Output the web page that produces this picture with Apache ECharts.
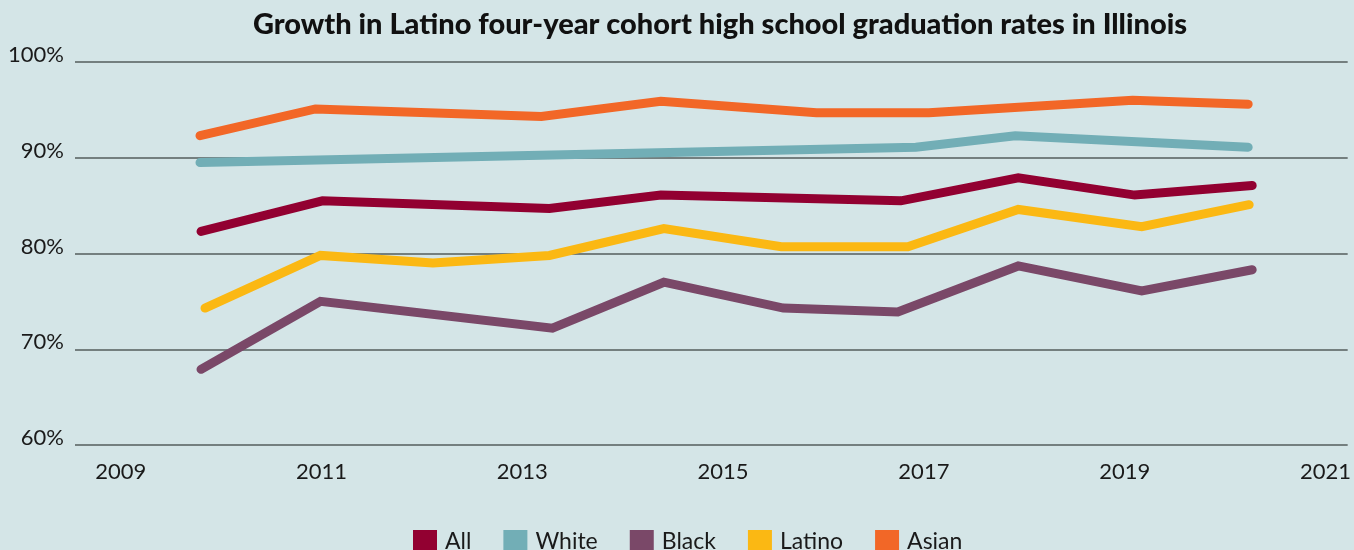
<!DOCTYPE html>
<html>
<head>
<meta charset="utf-8">
<title>Latino graduation rates</title>
<script src="https://cdn.jsdelivr.net/npm/echarts@6/dist/echarts.min.js"></script>
<style>
    html, body { margin: 0; padding: 0; background: #d4e5e7; }
    #chart { width: 1354px; height: 550px; }
</style>
</head>
<body>
<div id="chart"></div>
<script>
    // year positions of each line's vertices
    let allYears = [2009.80, 2011.01, 2013.27, 2014.38, 2016.77, 2017.94, 2019.10, 2020.27];
    let allRates = [82.3, 85.5, 84.7, 86.1, 85.5, 87.9, 86.1, 87.1];

    let whiteYears = [2009.79, 2016.92, 2017.91, 2020.23];
    let whiteRates = [89.5, 91.1, 92.3, 91.1];

    let blackYears = [2009.80, 2010.99, 2013.30, 2014.41, 2015.60, 2016.74, 2017.94, 2019.17, 2020.27];
    let blackRates = [67.9, 75.0, 72.2, 77.0, 74.3, 73.9, 78.7, 76.1, 78.3];

    let latinoYears = [2009.84, 2010.99, 2012.11, 2013.27, 2014.41, 2015.58, 2016.84, 2017.94, 2019.17, 2020.24];
    let latinoRates = [74.3, 79.8, 79.0, 79.8, 82.6, 80.7, 80.7, 84.6, 82.8, 85.1];

    let asianYears = [2009.79, 2010.94, 2013.19, 2014.38, 2015.93, 2017.05, 2019.08, 2020.23];
    let asianRates = [92.3, 95.1, 94.3, 95.9, 94.7, 94.7, 96.0, 95.6];

    let yearLabels = [2009, 2011, 2013, 2015, 2017, 2019, 2021];
    let seriesNames = ["All", "White", "Black", "Latino", "Asian"];
    let seriesColors = ["#920031", "#72aeb6", "#7a4868", "#fbb813", "#f26727"];

    function pairs(xs, ys) {
        return xs.map(function (x, i) {
            return [x, ys[i]];
        });
    }

    let seriesData = [
        pairs(allYears, allRates),
        pairs(whiteYears, whiteRates),
        pairs(blackYears, blackRates),
        pairs(latinoYears, latinoRates),
        pairs(asianYears, asianRates),
    ];

    let chart = echarts.init(document.getElementById("chart"));
    let font = "Lato, 'Open Sans', sans-serif";

    let option = {
        backgroundColor: "#d4e5e7",
        animation: false,
        title: {
            text: "Growth in Latino four-year cohort high school graduation rates in Illinois",
            left: 715,
            textAlign: "center",
            top: 5,
            textStyle: {
                fontFamily: font,
                fontWeight: 900,
                fontSize: 29,
                color: "#111",
            },
        },
        legend: {
            top: 525,
            left: 408,
            itemWidth: 24,
            itemHeight: 23,
            itemGap: 32,
            icon: "rect",
            textStyle: {
                fontFamily: font,
                fontSize: 23,
                color: "#1a1a1a",
                padding: [0, 0, 0, 3],
            },
            data: seriesNames,
        },
        grid: {
            left: 75,
            right: 0,
            top: 62,
            bottom: 105,
        },
        xAxis: {
            type: "value",
            min: 2008.545,
            max: 2021.221,
            axisLine: { show: false },
            axisTick: { show: false },
            splitLine: { show: false },
            axisLabel: {
                customValues: yearLabels,
                formatter: function (v) {
                    return String(Math.round(v));
                },
                margin: 16,
                fontFamily: font,
                fontSize: 22,
                color: "#1a1a1a",
            },
        },
        yAxis: {
            type: "value",
            min: 60,
            max: 100,
            interval: 10,
            axisLine: { show: false },
            axisTick: { show: false },
            axisLabel: {
                formatter: "{value}%",
                margin: 11,
                verticalAlign: "bottom",
                lineHeight: 14,
                fontFamily: font,
                fontSize: 22,
                color: "#1a1a1a",
            },
            splitLine: {
                lineStyle: {
                    color: "#555c5c",
                    width: 1.5,
                },
            },
        },
        series: seriesNames.map(function (name, i) {
            return {
                name: name,
                type: "line",
                data: seriesData[i],
                showSymbol: false,
                color: seriesColors[i],
                lineStyle: {
                    width: 9,
                    cap: "round",
                    join: "miter",
                },
            };
        }),
    };
    chart.setOption(option);
</script>
</body>
</html>
